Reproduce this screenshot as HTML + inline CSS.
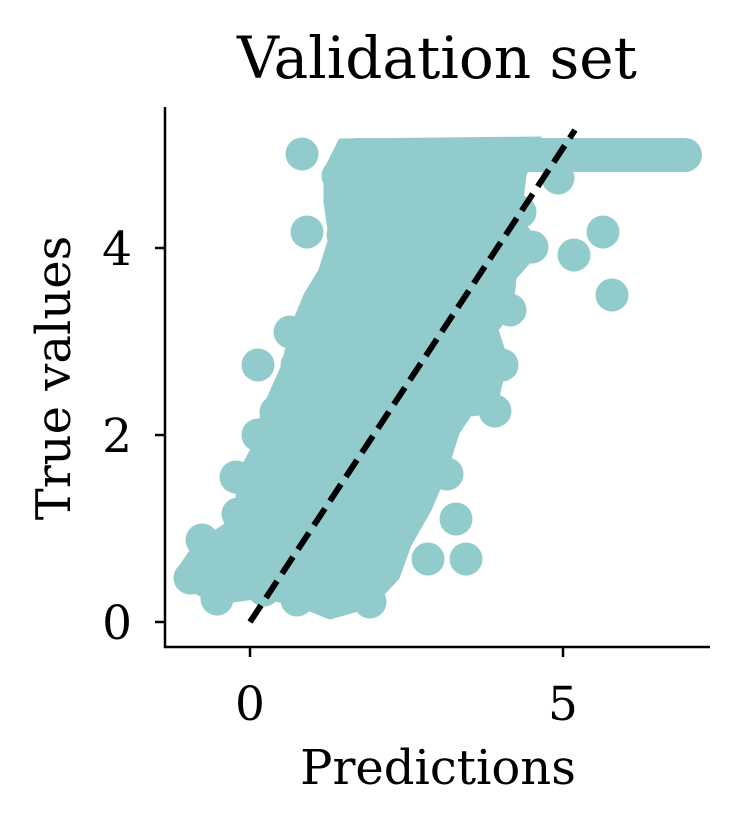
<!DOCTYPE html>
<html><head><style>
html,body{margin:0;padding:0;background:#fff;}
svg{display:block;}
text{font-family:"DejaVu Serif","Liberation Serif",serif;fill:#000;}
</style></head><body>
<svg width="743" height="829" viewBox="0 0 743 829" xmlns="http://www.w3.org/2000/svg">
<rect width="743" height="829" fill="#fff"/>
<g fill="#92cbcc" stroke="none">
<polygon stroke="#92cbcc" stroke-width="3" stroke-linejoin="round" points="340,140 540,138 525,175 520,218 530,232 540,250 515,278 512,310 497,330 507,360 500,388 495,412 470,415 458,433 445,475 430,510 410,545 398,578 372,606 330,618 297,605 262,597 217,603 180,585 178,570 195,545 237,517 237,477 258,438 262,412 283,365 290,332 305,295 320,270 330,238 325,202 325,170"/>
<rect x="340" y="138" width="362" height="34" rx="17"/>
<circle cx="302" cy="154" r="16.5"/><circle cx="307" cy="232" r="16.5"/>
<circle cx="612" cy="295" r="16.5"/><circle cx="574" cy="255" r="16.5"/>
<circle cx="603" cy="232" r="16.5"/><circle cx="558" cy="178" r="16.5"/>
<circle cx="532" cy="247" r="16.5"/><circle cx="258" cy="365" r="16.5"/>
<circle cx="297" cy="365" r="16.5"/><circle cx="456" cy="519" r="16.5"/>
<circle cx="466" cy="559" r="16.5"/><circle cx="428" cy="559" r="16.5"/>
<circle cx="447" cy="474" r="16.5"/><circle cx="495" cy="411" r="16.5"/>
<circle cx="502" cy="365" r="16.5"/><circle cx="370" cy="602" r="16.5"/>
<circle cx="330" cy="602" r="16.5"/><circle cx="190" cy="578" r="16.5"/>
<circle cx="217" cy="599" r="16.5"/><circle cx="202" cy="540" r="16.5"/>
<circle cx="276" cy="412" r="16.5"/><circle cx="258" cy="435" r="16.5"/>
<circle cx="290" cy="332" r="16.5"/><circle cx="311" cy="320" r="16.5"/>
<circle cx="338" cy="176" r="16.5"/><circle cx="344" cy="200" r="16.5"/>
<circle cx="343" cy="235" r="16.5"/><circle cx="236" cy="477" r="16.5"/>
<circle cx="238" cy="514" r="16.5"/><circle cx="498" cy="282" r="16.5"/>
<circle cx="510" cy="310" r="16.5"/><circle cx="520" cy="212" r="16.5"/>
<circle cx="264" cy="590" r="16.5"/><circle cx="297" cy="600" r="16.5"/>
</g>
<line x1="250" y1="622" x2="575" y2="130" stroke="#000" stroke-width="6" stroke-dasharray="20,9"/>
<g stroke="#000" stroke-width="2.5" fill="none">
<polyline points="165,107 165,647 710,647"/>
<line x1="250" y1="647" x2="250" y2="657"/><line x1="563" y1="647" x2="563" y2="657"/>
<line x1="165" y1="622" x2="155" y2="622"/><line x1="165" y1="435" x2="155" y2="435"/><line x1="165" y1="248" x2="155" y2="248"/>
</g>
<g font-size="47">
<text x="250" y="720" text-anchor="middle">0</text>
<text x="563" y="720" text-anchor="middle">5</text>
<text x="132" y="639" text-anchor="end">0</text>
<text x="132" y="452" text-anchor="end">2</text>
<text x="132" y="265" text-anchor="end">4</text>
<text x="438" y="784" text-anchor="middle" font-size="48">Predictions</text>
<text transform="translate(70,378) rotate(-90)" text-anchor="middle" font-size="48">True values</text>
<text x="437" y="78" text-anchor="middle" font-size="58">Validation set</text>
</g>
</svg>
</body></html>
